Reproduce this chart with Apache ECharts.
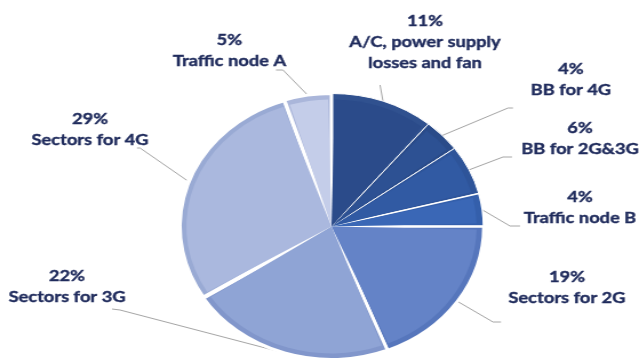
<!DOCTYPE html>
<html>
<head>
<meta charset="utf-8">
<script src="https://cdn.jsdelivr.net/npm/echarts@6/dist/echarts.min.js"></script>
<style>
  html, body { margin: 0; padding: 0; background: #ffffff; overflow: hidden; }
  #wrap { width: 639px; height: 360px; overflow: hidden; position: relative; }
  /* the pie is drawn as an ellipse: render narrower, then widen horizontally */
  #chart { width: 559px; height: 360px; transform: scaleX(1.1431); transform-origin: 0 0; }
</style>
</head>
<body>
<div id="wrap"><div id="chart"></div></div>
<script>
// Energy share per consumer (percent)
const categories = [
  'A/C, power supply\nlosses and fan',
  'BB for 4G',
  'BB for 2G&3G',
  'Traffic node B',
  'Sectors for 2G',
  'Sectors for 3G',
  'Sectors for 4G',
  'Traffic node A'
];
const shares = [11, 4, 6, 4, 19, 22, 29, 5];

// slice palette: inner fill and the slightly darker rim
const fillColors = ['#2b4b8a', '#2d5193', '#315aa3', '#3a67b6', '#6483c7', '#8fa4d5', '#aab8de', '#c4cde9'];
const rimColors  = ['#30518f', '#2a4b89', '#2e5499', '#345fab', '#5676bc', '#8196cb', '#99aad4', '#aab6da'];
const gapWidths  = [1, 1, 1, 1.5, 2.5, 3, 4, 3];

const STRETCH = 639 / 559;

// label block centres and leader-line bends, in page pixels
const labelPlacement = [
  { at: [425, 41.5], bend: [380, 85],  end: [380, 85] },
  { at: [571, 79],   bend: [508, 108], end: [513, 108] },
  { at: [580, 138],  bend: [503, 157], end: [512, 157] },
  { at: [580, 207],  bend: [510, 226], end: [520, 226] },
  { at: [567, 287.5], bend: [493, 322], end: [501, 322] },
  { at: [67, 286],   bend: [120, 310], end: [112, 309] },
  { at: [90, 129],   bend: [140, 148], end: [137, 148] },
  { at: [229.5, 50.5], bend: [283, 70], end: [276, 70] }
];

const PIE_CENTER = [290, 226.5];

const rimData = categories.map((name, i) => ({
  name: name,
  value: shares[i],
  itemStyle: { color: rimColors[i], borderColor: '#ffffff', borderWidth: gapWidths[i] }
}));
const fillData = categories.map((name, i) => ({
  name: name,
  value: shares[i],
  itemStyle: { color: fillColors[i] }
}));

const chart = echarts.init(document.getElementById('chart'), null, { renderer: 'canvas' });
chart.setOption({
  animation: false,
  backgroundColor: '#ffffff',
  series: [
    {
      type: 'pie',
      center: PIE_CENTER,
      radius: 133,
      startAngle: 90,
      clockwise: true,
      avoidLabelOverlap: false,
      emphasis: { disabled: true },
      data: rimData,
      label: {
        show: true,
        position: 'outside',
        overflow: 'none',
        formatter: p => p.value + '%\n' + p.name,
        fontFamily: 'Lato',
        fontWeight: 'bold',
        fontSize: 16,
        lineHeight: 21,
        color: '#1f2b5c',
        textBorderColor: '#1f2b5c',
        textBorderWidth: 0.4
      },
      labelLine: {
        show: true,
        length: 15,
        length2: 8,
        lineStyle: { color: '#a6a6a6', width: 1 }
      },
      labelLayout: function (p) {
        const L = labelPlacement[p.dataIndex];
        const out = {
          x: L.at[0] / STRETCH,
          y: L.at[1],
          align: 'center',
          verticalAlign: 'middle'
        };
        if (p.labelLinePoints) {
          const s = p.labelLinePoints[0];
          out.labelLinePoints = [
            [s[0], s[1]],
            [L.bend[0] / STRETCH, L.bend[1]],
            [L.end[0] / STRETCH, L.end[1]]
          ];
        }
        return out;
      }
    },
    {
      type: 'pie',
      center: PIE_CENTER,
      radius: 127,
      startAngle: 90,
      clockwise: true,
      padAngle: 2.6,
      silent: true,
      emphasis: { disabled: true },
      label: { show: false },
      labelLine: { show: false },
      data: fillData
    }
  ]
});
</script>
</body>
</html>
